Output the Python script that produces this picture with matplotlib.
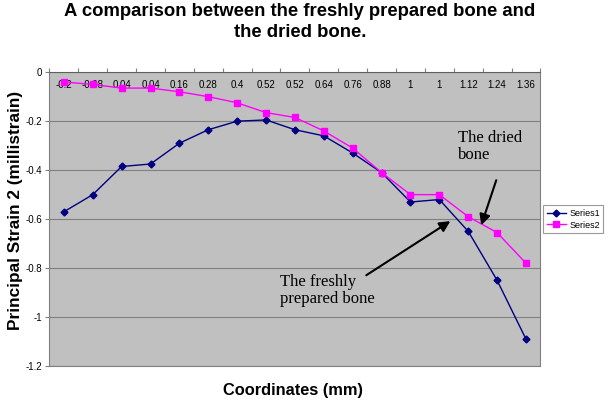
import numpy as np
import matplotlib.pyplot as plt

plt.rcParams['font.family'] = ['Liberation Sans', 'DejaVu Sans']

# data
coords = ["-0.2", "-0.08", "0.04", "0.04", "0.16", "0.28", "0.4", "0.52", "0.52",
          "0.64", "0.76", "0.88", "1", "1", "1.12", "1.24", "1.36"]
series1 = [-0.57, -0.50, -0.385, -0.375, -0.29, -0.235, -0.20, -0.195, -0.235,
           -0.26, -0.33, -0.41, -0.53, -0.52, -0.65, -0.85, -1.09]
series2 = [-0.04, -0.05, -0.065, -0.065, -0.08, -0.10, -0.125, -0.165, -0.185,
           -0.24, -0.31, -0.41, -0.50, -0.50, -0.59, -0.655, -0.78]
yticks = [0, -0.2, -0.4, -0.6, -0.8, -1, -1.2]

fig = plt.figure(figsize=(6.1, 4.01), dpi=100)
ax = fig.add_axes([0.081, 0.087, 0.805, 0.733])
ax.set_facecolor('#C0C0C0')

x = np.arange(len(coords))
ax.plot(x, series1, color='#000080', marker='D', markersize=3.5, lw=1.0, label='Series1')
ax.plot(x, series2, color='#FF00FF', marker='s', markersize=4.5, lw=1.0, label='Series2')

ax.set_xlim(-0.5, len(coords) - 0.5)
ax.set_ylim(-1.2, 0)

# y axis
ax.set_yticks(yticks)
ax.set_yticklabels([f"{v:g}" for v in yticks], fontsize=7)
ax.grid(axis='y', color='#808080', lw=0.8)
ax.tick_params(axis='y', direction='out', length=3, pad=2, color='#808080')

# category axis along the top (crosses at 0), labels drawn inside
ax.xaxis.set_ticks_position('top')
ax.set_xticks(np.arange(-0.5, len(coords), 1.0))
ax.set_xticklabels([])
ax.tick_params(axis='x', which='major', direction='out', length=3, color='#808080')
ax.set_xticks(x, minor=True)
ax.set_xticklabels(coords, minor=True, fontsize=7)
ax.tick_params(axis='x', which='minor', length=0, labeltop=True, labelbottom=False, pad=-13)

for s in ['left', 'bottom', 'right']:
    ax.spines[s].set_color('#808080')
ax.spines['top'].set_color('#606060')

fig.text(0.025, 0.474, 'Principal Strain 2 (millistrain)', rotation=90, ha='center', va='center',
         fontsize=12.4, fontweight='bold')
fig.text(0.481, 0.027, 'Coordinates (mm)', ha='center', va='center', fontsize=11.8, fontweight='bold')
fig.text(0.492, 0.945, 'A comparison between the freshly prepared bone and\nthe dried bone.',
         ha='center', va='center', fontsize=13.3, fontweight='bold', linespacing=1.35)

serif = ['Liberation Serif', 'DejaVu Serif']
arrow = dict(arrowstyle='-|>', color='black', lw=1.5, mutation_scale=16, shrinkA=0, shrinkB=0)
ax.text(13.65, -0.305, 'The dried\nbone', fontsize=12, family=serif, ha='left', va='center',
        linespacing=1.1)
ax.annotate('', xy=(14.45, -0.625), xytext=(14.97, -0.441), arrowprops=arrow)
ax.text(7.49, -0.892, 'The freshly\nprepared bone', fontsize=12, family=serif, ha='left',
        va='center', linespacing=1.05)
ax.annotate('', xy=(13.38, -0.608), xytext=(10.47, -0.829), arrowprops=arrow)

leg = ax.legend(loc='center left', bbox_to_anchor=(1.005, 0.5), borderaxespad=0, fontsize=6.5,
                frameon=True, fancybox=False, edgecolor='#808080', borderpad=0.4,
                handlelength=2.2, handletextpad=0.3, labelspacing=0.3)
leg.get_frame().set_linewidth(0.8)

fig.savefig('out.png', dpi=100)
